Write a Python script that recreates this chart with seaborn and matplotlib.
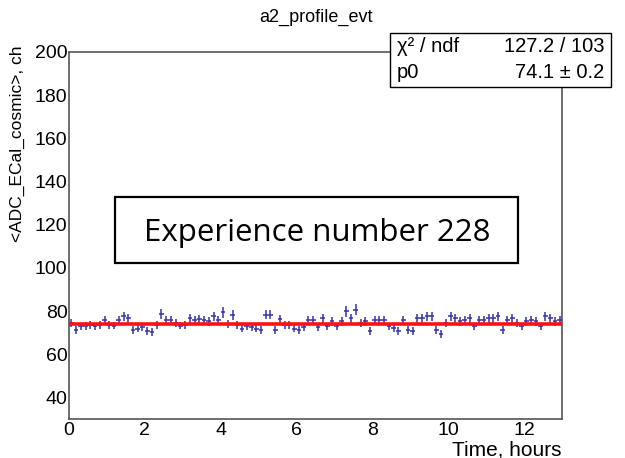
import numpy as np
import pandas as pd
import matplotlib
matplotlib.use("Agg")
import matplotlib.pyplot as plt
import seaborn as sns
from matplotlib.patches import Rectangle
from matplotlib.ticker import MultipleLocator

# ---- data -------------------------------------------------------------
hist_title = "a2_profile_evt"
x_title = "Time, hours"
y_title = "<ADC_ECal_cosmic>, ch"
note_text = "Experience number 228"

t_min, t_max = 0.0, 13.0
y_min, y_max = 30.0, 200.0

# profile mean per time bin (104 bins of 0.125 h)
adc_mean = [
    74.4, 71.3, 72.9, 73.2, 73.6, 72.9, 73.6, 75.9, 73.6, 73.3,
    75.9, 77.5, 76.7, 71.3, 71.8, 72.4, 70.9, 70.3, 73.6, 78.6,
    75.9, 75.9, 74.4, 73.3, 73.6, 76.7, 75.9, 76.4, 75.9, 75.2,
    77.5, 75.9, 79.5, 73.9, 78.3, 73.6, 71.8, 72.9, 72.4, 71.8,
    71.3, 78.3, 78.3, 71.3, 76.3, 73.6, 73.6, 71.8, 71.3, 72.4,
    75.9, 75.9, 72.4, 76.7,
    72.9, 75.2, 72.9, 75.2, 79.8, 76.7, 80.6, 74.4, 75.2, 70.6,
    75.9, 75.9, 75.9, 72.9, 72.1, 70.6, 75.9, 71.3, 70.9, 76.7,
    76.7, 77.5, 77.5, 71.3, 69.3, 74.4, 77.5, 76.7, 75.2, 75.9,
    76.7, 72.9, 75.9, 75.9, 76.7, 76.7, 77.5, 71.3, 75.9, 76.7,
    74.4, 72.9, 75.2, 75.9, 75.2, 72.9, 77.5, 76.7, 75.2, 75.9,
]

# error on the mean per bin
adc_err = [
    1.8, 1.9, 1.7, 1.8, 1.8, 1.7, 1.8, 2.0, 1.8, 1.8,
    1.9, 2.1, 2.0, 1.8, 1.7, 1.8, 1.9, 1.8, 1.8, 2.4,
    2.0, 1.9, 1.8, 1.8, 1.7, 2.0, 1.9, 2.0, 1.9, 1.9,
    2.1, 1.9, 2.5, 1.8, 2.3, 1.8, 1.7, 1.8, 1.8, 1.7,
    1.8, 2.2, 2.2, 1.7, 2.0, 1.8, 1.8, 1.7, 1.8, 1.8,
    1.9, 1.9, 1.8, 2.0,
    1.8, 1.9, 1.8, 1.9, 2.4, 2.0, 2.6, 1.8, 1.9, 1.8,
    1.9, 1.9, 1.9, 1.8, 1.8, 1.8, 1.9, 1.8, 1.8, 2.0,
    2.0, 2.1, 2.1, 1.8, 1.9, 1.8, 2.1, 2.0, 1.9, 1.9,
    2.0, 1.8, 1.9, 1.9, 2.0, 2.0, 2.1, 1.8, 1.9, 2.0,
    1.8, 1.8, 1.9, 1.9, 1.9, 1.8, 2.1, 2.0, 1.9, 1.9,
]

# constant fit result
fit_chi2 = 127.2
fit_ndf = 103
fit_p0 = 74.1
fit_p0_err = 0.2

# ---- binning ------------------------------------------------------------
edges = np.linspace(t_min, t_max, len(adc_mean) + 1)
centers = 0.5 * (edges[:-1] + edges[1:])
half_width = 0.5 * np.diff(edges)

profile = pd.DataFrame({"time": centers, "adc": adc_mean, "err": adc_err})
fit_df = pd.DataFrame({"time": [t_min, t_max], "adc": [fit_p0, fit_p0]})

# ---- figure ---------------------------------------------------------------
sns.set_theme(style="white")
plt.rcParams["font.family"] = ["Liberation Sans", "DejaVu Sans"]
plt.rcParams["text.color"] = "black"

W, H = 625, 458
fig = plt.figure(figsize=(W / 100, H / 100), dpi=100)
ax = fig.add_axes([69 / W, 1 - 419 / H, (562 - 69) / W, (419 - 52) / H])

blue = "#3434ac"
ax.errorbar(profile["time"], profile["adc"], yerr=profile["err"], xerr=half_width,
            fmt="none", ecolor=blue, elinewidth=1.1, capsize=0, zorder=3)
sns.lineplot(data=fit_df, x="time", y="adc", color="#ff1010", linewidth=2.6,
             ax=ax, zorder=4)

ax.set_xlim(t_min, t_max)
ax.set_ylim(y_min, y_max)
ax.set_xlabel("")
ax.set_ylabel("")

ax.xaxis.set_major_locator(MultipleLocator(2))
ax.xaxis.set_minor_locator(MultipleLocator(0.5))
ax.yaxis.set_major_locator(MultipleLocator(20))
ax.yaxis.set_minor_locator(MultipleLocator(5))
ax.tick_params(axis="both", which="both", direction="in", top=False, right=False,
               colors="#555555", labelcolor="black")
ax.tick_params(axis="both", which="major", length=9.5, width=1.0, labelsize=14)
ax.tick_params(axis="both", which="minor", length=4.5, width=1.0)
ax.tick_params(axis="x", which="major", pad=2)
ax.tick_params(axis="y", which="major", pad=1)

for side in ax.spines.values():
    side.set_color("#555555")
    side.set_linewidth(1.2)

# titles
fig.text(316 / W, 1 - 17 / H, hist_title, ha="center", va="center", fontsize=13)
fig.text(562 / W, 1 - 450 / H, x_title, ha="right", va="center", fontsize=15)
fig.text(17 / W, 1 - 45 / H, y_title, ha="center", va="top", rotation=90,
         fontsize=12.5)

# fit statistics box
fig.patches.append(Rectangle((390 / W, 1 - 87 / H), (611 - 390) / W, (87 - 33) / H,
                             transform=fig.transFigure, facecolor="white",
                             edgecolor="black", linewidth=1.0, zorder=5))
fig.text(397 / W, 1 - 47 / H, "\u03c7\u00b2 / ndf", ha="left", va="center",
         fontsize=14.5, zorder=6)
fig.text(604 / W, 1 - 47 / H, f"{fit_chi2:.1f} / {fit_ndf}", ha="right",
         va="center", fontsize=14.5, zorder=6)
fig.text(397 / W, 1 - 72 / H, "p0", ha="left", va="center", fontsize=14.5, zorder=6)
fig.text(604 / W, 1 - 72 / H, f"{fit_p0:.1f} \u00b1 {fit_p0_err:.1f}", ha="right",
         va="center", fontsize=14.5, zorder=6)

# annotation box
fig.patches.append(Rectangle((115 / W, 1 - 263 / H), (518 - 115) / W, (263 - 197) / H,
                             transform=fig.transFigure, facecolor="white",
                             edgecolor="black", linewidth=1.6, zorder=5))
fig.text(317 / W, 1 - 241 / H, note_text, ha="center", va="baseline", fontsize=22.5,
         family=["Open Sans", "DejaVu Sans"], zorder=6)

fig.savefig("out.png", dpi=100)
